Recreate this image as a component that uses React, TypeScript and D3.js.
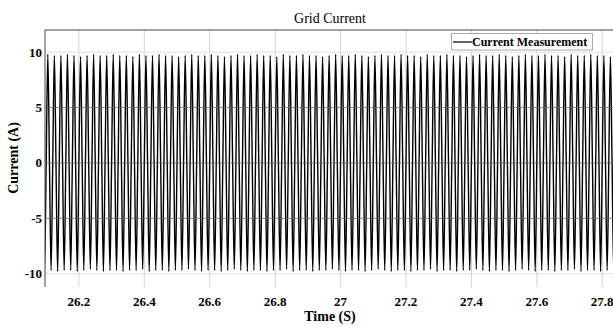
import React, { useEffect, useRef } from 'react';
import * as d3 from 'd3';

// 50 Hz grid current, peaks every 0.02 s
const firstPeakTime = 26.085;
const period = 0.02;
const peakValues = [
  9.7, 9.8, 9.7, 9.7, 9.8, 9.7, 9.6, 9.7, 9.8, 9.7, 9.7, 9.8, 9.7, 9.7, 9.6, 9.8,
  9.7, 9.7, 9.8, 9.7, 9.7, 9.6, 9.7, 9.8, 9.7, 9.7, 9.8, 9.7, 9.6, 9.7, 9.8, 9.7,
  9.7, 9.8, 9.7, 9.7, 9.6, 9.8, 9.7, 9.7, 9.8, 9.7, 9.7, 9.6, 9.7, 9.8, 9.7, 9.7,
  9.8, 9.7, 9.6, 9.7, 9.8, 9.7, 9.7, 9.8, 9.7, 9.7, 9.6, 9.8, 9.7, 9.7, 9.8, 9.7,
  9.7, 9.6, 9.7, 9.8, 9.7, 9.7, 9.8, 9.7, 9.6, 9.7, 9.8, 9.7, 9.7, 9.8, 9.7, 9.7,
  9.6, 9.8, 9.7, 9.7, 9.8, 9.7, 9.7, 9.6, 9.7,
];
const troughValues = [
  -9.7, -9.7, -9.8, -9.7, -9.7, -9.8, -9.7, -9.6, -9.7, -9.8, -9.7, -9.7, -9.8, -9.7, -9.7, -9.6,
  -9.8, -9.7, -9.7, -9.8, -9.7, -9.7, -9.6, -9.7, -9.8, -9.7, -9.7, -9.8, -9.7, -9.6, -9.7, -9.8,
  -9.7, -9.7, -9.8, -9.7, -9.7, -9.6, -9.8, -9.7, -9.7, -9.8, -9.7, -9.7, -9.6, -9.7, -9.8, -9.7,
  -9.7, -9.8, -9.7, -9.6, -9.7, -9.8, -9.7, -9.7, -9.8, -9.7, -9.7, -9.6, -9.8, -9.7, -9.7, -9.8,
  -9.7, -9.7, -9.6, -9.7, -9.8, -9.7, -9.7, -9.8, -9.7, -9.6, -9.7, -9.8, -9.7, -9.7, -9.8, -9.7,
  -9.7, -9.6, -9.8, -9.7, -9.7, -9.8, -9.7, -9.7, -9.6,
];
const xTicks = [26.2, 26.4, 26.6, 26.8, 27, 27.2, 27.4, 27.6, 27.8];
const yTicks = [-10, -5, 0, 5, 10];

const App: React.FC = () => {
  const svgRef = useRef<SVGSVGElement>(null);

  useEffect(() => {
    if (!svgRef.current) return;
    const svg = d3.select(svgRef.current);
    svg.selectAll("*").remove();

    const left = 45, top = 30, bottom = 287;
    const font = "'Liberation Serif', 'Times New Roman', serif";

    const x = d3.scaleLinear().domain([26.0964, 27.85]).range([left, left + 1.7536 * 327.1]);
    const y = d3.scaleLinear().domain([-11.2, 12]).range([bottom, top]);

    // build the wave from the read extrema, zero crossings between them
    const pts: [number, number][] = [];
    peakValues.forEach((p, i) => {
      const tp = firstPeakTime + i * period;
      pts.push([tp, p]);
      pts.push([tp + period / 4, 0]);
      pts.push([tp + period / 2, troughValues[i]]);
      pts.push([tp + (3 * period) / 4, 0]);
    });

    svg.append("defs").append("clipPath").attr("id", "plotclip")
      .append("rect")
      .attr("x", left).attr("y", top)
      .attr("width", 700).attr("height", bottom - top);

    // grid
    svg.append("g").selectAll("line")
      .data(xTicks).enter().append("line")
      .attr("x1", d => x(d)).attr("x2", d => x(d))
      .attr("y1", top).attr("y2", bottom)
      .attr("stroke", "#d4d4d4").attr("stroke-width", 1);

    svg.append("g").selectAll("line")
      .data(yTicks).enter().append("line")
      .attr("x1", left).attr("x2", 613)
      .attr("y1", d => y(d)).attr("y2", d => y(d))
      .attr("stroke", "#e0e0e0").attr("stroke-width", 1);

    // signal
    const line = d3.line<[number, number]>()
      .x(d => x(d[0])).y(d => y(d[1]))
      .curve(d3.curveMonotoneX);

    svg.append("path")
      .datum(pts)
      .attr("clip-path", "url(#plotclip)")
      .attr("d", line)
      .attr("fill", "none")
      .attr("stroke", "#000")
      .attr("stroke-width", 1.4);

    // the inner gridlines show through the signal
    svg.append("g").selectAll("line")
      .data(yTicks.filter(d => Math.abs(d) < 10)).enter().append("line")
      .attr("x1", left).attr("x2", 613)
      .attr("y1", d => y(d)).attr("y2", d => y(d))
      .attr("stroke", "#666").attr("stroke-opacity", 0.6).attr("stroke-width", 1);

    // axes frame
    svg.append("line")
      .attr("x1", left).attr("x2", left).attr("y1", top).attr("y2", bottom)
      .attr("stroke", "#444").attr("stroke-width", 1);
    svg.append("line")
      .attr("x1", left).attr("x2", 613).attr("y1", top).attr("y2", top)
      .attr("stroke", "#444").attr("stroke-width", 1);

    // tick labels
    svg.append("g").selectAll("text")
      .data(xTicks).enter().append("text")
      .attr("x", d => x(d)).attr("y", 306)
      .attr("text-anchor", "middle")
      .style("font-family", font).style("font-weight", "bold").style("font-size", "13px")
      .text(d => d3.format("")(d));

    svg.append("g").selectAll("text")
      .data(yTicks).enter().append("text")
      .attr("x", 42).attr("y", d => y(d) + 4.5)
      .attr("text-anchor", "end")
      .style("font-family", font).style("font-weight", "bold").style("font-size", "13px")
      .text(d => String(d));

    // title and labels
    svg.append("text")
      .attr("x", 330).attr("y", 23)
      .attr("text-anchor", "middle")
      .style("font-family", font).style("font-size", "14px")
      .text("Grid Current");

    svg.append("text")
      .attr("x", 330).attr("y", 321)
      .attr("text-anchor", "middle")
      .style("font-family", font).style("font-weight", "bold").style("font-size", "14px")
      .text("Time (S)");

    svg.append("text")
      .attr("transform", "translate(18,158) rotate(-90)")
      .attr("text-anchor", "middle")
      .style("font-family", font).style("font-weight", "bold").style("font-size", "14px")
      .text("Current (A)");

    // legend
    const legend = svg.append("g");
    legend.append("rect")
      .attr("x", 451.5).attr("y", 33.5).attr("width", 141).attr("height", 16.5)
      .attr("fill", "#fff").attr("stroke", "#aaa").attr("stroke-width", 1);
    legend.append("line")
      .attr("x1", 453).attr("x2", 472).attr("y1", 42).attr("y2", 42)
      .attr("stroke", "#000").attr("stroke-width", 1.2);
    legend.append("text")
      .attr("x", 472).attr("y", 46)
      .style("font-family", font).style("font-weight", "bold").style("font-size", "12px")
      .text("Current Measurement");
  }, []);

  return (
    <div style={{ position: "fixed", left: 0, top: 0, width: 613, height: 327, background: "#fff" }}>
      <svg ref={svgRef} width="613" height="327" style={{ display: "block", overflow: "hidden" }} />
    </div>
  );
};

export default App;
